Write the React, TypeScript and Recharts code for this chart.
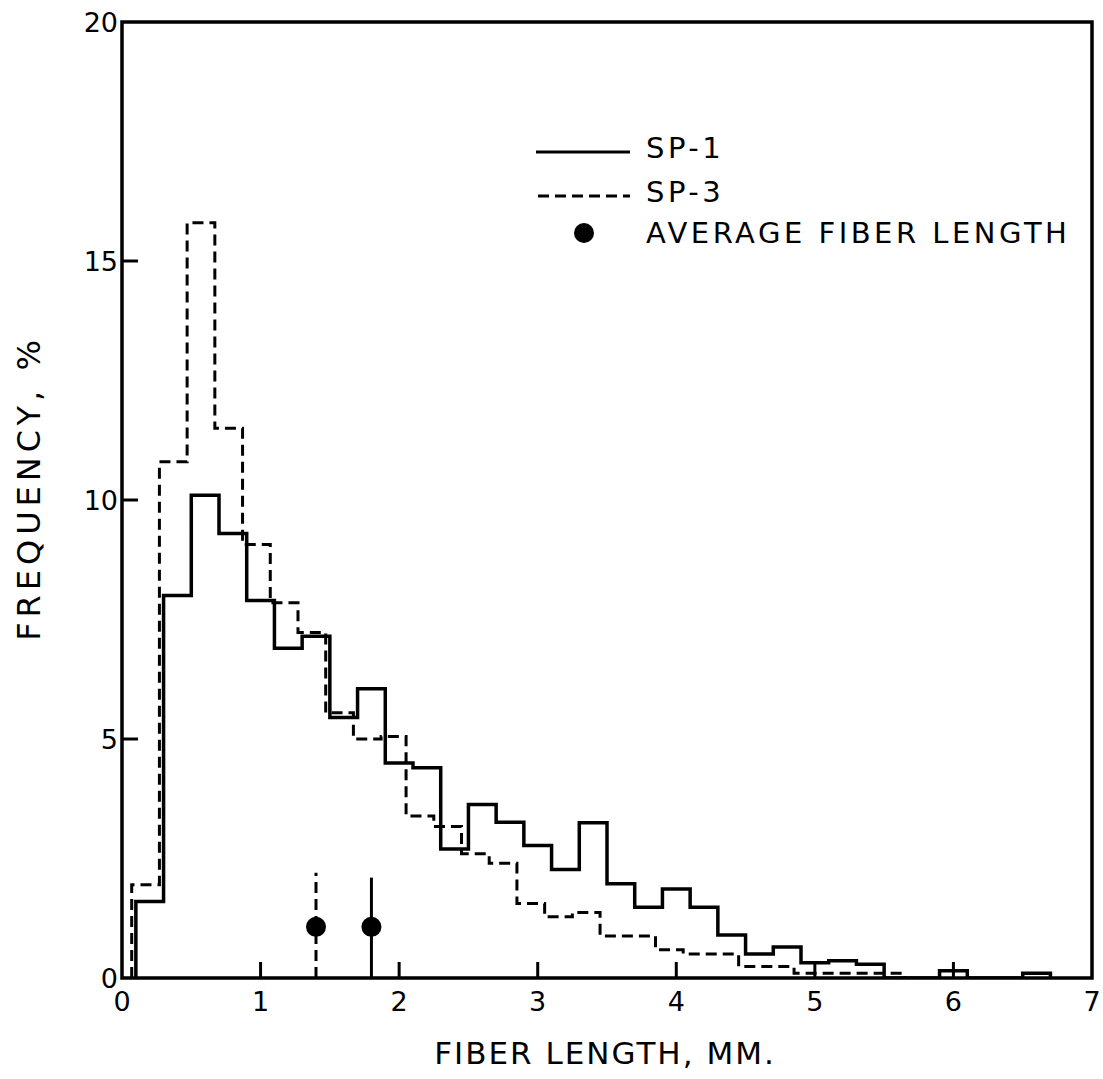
import React from "react";
import {
  ComposedChart,
  Line,
  Scatter,
  XAxis,
  YAxis,
  ReferenceArea,
  Legend,
  Label,
} from "recharts";

/* ── Data ── */
// SP-1: left edge of each 0.2 mm class and its frequency (%)
const sp1Starts = [
  0.1, 0.3, 0.5, 0.7, 0.9, 1.1, 1.3, 1.5, 1.7, 1.9, 2.1, 2.3, 2.5, 2.7, 2.9,
  3.1, 3.3, 3.5, 3.7, 3.9, 4.1, 4.3, 4.5, 4.7, 4.9, 5.1, 5.3, 5.5, 5.7, 5.9,
  6.1, 6.3, 6.5, 6.7,
];
const sp1Freq = [
  1.6, 8.0, 10.1, 9.3, 7.9, 6.9, 7.15, 5.45, 6.05, 4.5, 4.4, 2.7, 3.63, 3.26,
  2.77, 2.27, 3.25, 1.97, 1.48, 1.86, 1.48, 0.9, 0.5, 0.65, 0.32, 0.36, 0.29,
  0, 0, 0.15, 0, 0, 0.1, 0,
];

// SP-3
const sp3Starts = [
  0.07, 0.27, 0.47, 0.67, 0.87, 1.07, 1.27, 1.47, 1.67, 1.87, 2.05, 2.25, 2.45,
  2.65, 2.85, 3.05, 3.25, 3.45, 3.65, 3.85, 4.05, 4.25, 4.45, 4.65, 4.85, 5.05,
  5.25, 5.45, 5.65,
];
const sp3Freq = [
  1.95, 10.8, 15.8, 11.5, 9.07, 7.85, 7.23, 5.55, 5.0, 5.05, 3.39, 3.17, 2.6,
  2.4, 1.56, 1.28, 1.37, 0.88, 0.88, 0.59, 0.5, 0.5, 0.24, 0.24, 0.1, 0.1, 0.1,
  0.1, 0,
];

// average fiber length markers (SP-3, SP-1)
const avgLength = [1.4, 1.8];
const avgDotLevel = [1.07, 1.07];
const avgStemTop = [2.2, 2.1];

const xTicks = [0, 1, 2, 3, 4, 5, 6, 7];
const yTicks = [0, 5, 10, 15, 20];

const FONT = "DejaVu Sans";

const toSteps = (starts: number[], freq: number[]) => [
  { x: starts[0], y: 0 },
  ...starts.map((x, i) => ({ x, y: freq[i] })),
];

const sp1Data = toSteps(sp1Starts, sp1Freq);
const sp3Data = toSteps(sp3Starts, sp3Freq);
const sp3Stem = [
  { x: avgLength[0], y: 0 },
  { x: avgLength[0], y: avgStemTop[0] },
];
const sp1Stem = [
  { x: avgLength[1], y: 0 },
  { x: avgLength[1], y: avgStemTop[1] },
];
const avgDots = avgLength.map((x, i) => ({ x, y: avgDotLevel[i] }));

const XTick = (props: any) => {
  const { x, y, payload } = props;
  const v = payload.value;
  return (
    <g>
      {v > 0 && v < 7 && (
        <line x1={x} x2={x} y1={y} y2={y - 16} stroke="#000" strokeWidth={3} />
      )}
      <text
        x={x}
        y={y + 33}
        textAnchor="middle"
        fontSize={27}
        fontFamily={FONT}
        fill="#000"
      >
        {v}
      </text>
    </g>
  );
};

const YTick = (props: any) => {
  const { x, y, payload } = props;
  const v = payload.value;
  return (
    <g>
      {v > 0 && v < 20 && (
        <line x1={x} x2={x + 16} y1={y} y2={y} stroke="#000" strokeWidth={3} />
      )}
      <text
        x={x - 4}
        y={y}
        textAnchor="end"
        dominantBaseline="central"
        fontSize={27}
        fontFamily={FONT}
        fill="#000"
      >
        {v}
      </text>
    </g>
  );
};

const LegendBox = () => (
  <svg width={570} height={130}>
    <g fontFamily={FONT} fontSize={29} fill="#000" letterSpacing={3.5}>
      <line x1={16} x2={110} y1={27} y2={27} stroke="#000" strokeWidth={3} />
      <text x={126} y={23} dominantBaseline="central">SP-1</text>
      <line
        x1={18}
        x2={110}
        y1={71}
        y2={71}
        stroke="#000"
        strokeWidth={3}
        strokeDasharray="11 6"
      />
      <text x={126} y={67} dominantBaseline="central">SP-3</text>
      <circle cx={64} cy={108} r={10} fill="#000" />
      <text x={126} y={108} dominantBaseline="central">
        AVERAGE FIBER LENGTH
      </text>
    </g>
  </svg>
);

export default function App() {
  return (
    <div style={{ position: "absolute", left: 0, top: 0, background: "#fff" }}>
      <ComposedChart
        width={1103}
        height={1079}
        margin={{ top: 22, right: 11, bottom: 61, left: 62 }}
      >
        <XAxis
          type="number"
          dataKey="x"
          domain={[0, 7]}
          ticks={xTicks}
          interval={0}
          height={40}
          axisLine={false}
          tickLine={false}
          tickSize={0}
          tickMargin={0}
          tick={(p: any) => <XTick {...p} />}
          allowDataOverflow
        >
          <Label
            content={() => (
              <text
                x={605}
                y={1064}
                textAnchor="middle"
                fontSize={31}
                fontFamily={FONT}
                letterSpacing={2}
                fill="#000"
              >
                FIBER LENGTH, MM.
              </text>
            )}
          />
        </XAxis>
        <YAxis
          type="number"
          dataKey="y"
          domain={[0, 20]}
          ticks={yTicks}
          interval={0}
          width={60}
          axisLine={false}
          tickLine={false}
          tickSize={0}
          tickMargin={0}
          tick={(p: any) => <YTick {...p} />}
          allowDataOverflow
        >
          <Label
            content={() => (
              <text
                x={40}
                y={488}
                transform="rotate(-90 40 488)"
                textAnchor="middle"
                fontSize={32}
                fontFamily={FONT}
                letterSpacing={5}
                fill="#000"
              >
                FREQUENCY, %
              </text>
            )}
          />
        </YAxis>
        <ReferenceArea
          x1={0}
          x2={7}
          y1={0}
          y2={20}
          fill="none"
          stroke="#000"
          strokeWidth={3.5}
          ifOverflow="visible"
        />
        <Line
          data={sp3Data}
          dataKey="y"
          type="stepAfter"
          stroke="#000"
          strokeWidth={3}
          strokeDasharray="11 6"
          dot={false}
          isAnimationActive={false}
          name="SP-3"
        />
        <Line
          data={sp1Data}
          dataKey="y"
          type="stepAfter"
          stroke="#000"
          strokeWidth={3.5}
          dot={false}
          isAnimationActive={false}
          name="SP-1"
        />
        <Line
          data={sp3Stem}
          dataKey="y"
          type="linear"
          stroke="#000"
          strokeWidth={3}
          strokeDasharray="11 6"
          dot={false}
          isAnimationActive={false}
          legendType="none"
        />
        <Line
          data={sp1Stem}
          dataKey="y"
          type="linear"
          stroke="#000"
          strokeWidth={3}
          dot={false}
          isAnimationActive={false}
          legendType="none"
        />
        <Scatter
          data={avgDots}
          dataKey="y"
          fill="#000"
          isAnimationActive={false}
          shape={(p: any) => <circle cx={p.cx} cy={p.cy} r={10} fill="#000" />}
          name="AVERAGE FIBER LENGTH"
        />
        <Legend
          layout="horizontal"
          verticalAlign="middle"
          align="center"
          content={<LegendBox />}
          wrapperStyle={{ top: 125, left: 520, width: 570, height: 130 }}
        />
      </ComposedChart>
    </div>
  );
}
